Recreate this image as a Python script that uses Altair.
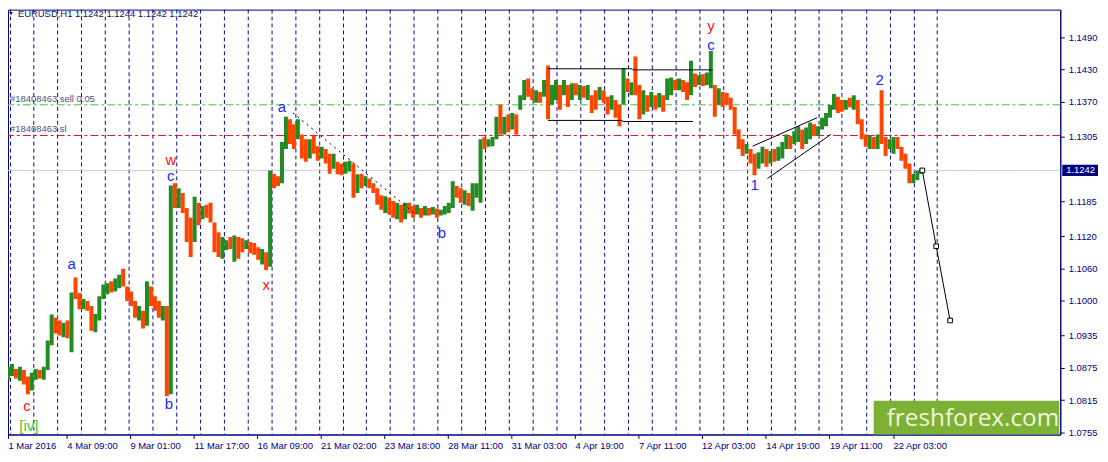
import altair as alt
import pandas as pd

NAVY = "#000080"
GREEN = "#228b22"
RED = "#ff4500"
FONT = "Liberation Sans"

# 4-hour bars (1 hour = 1 chart unit), prices in pips
BAR_START = 4
BAR_STEP = 4
HIGH_PIPS = [
    10871, 10877, 10882, 10873, 10877, 10871, 10859, 10866, 10873, 10871,
    10877, 10926, 10974, 10968, 10963, 10959, 10963, 11015, 11043, 11014,
    11003, 10999, 10990, 10975, 11008, 11030, 11032, 11036, 11041, 11048,
    11059, 11026, 11017, 10999, 10990, 10981, 11036, 11026, 11008, 10999,
    10990, 10990, 11214, 11218, 11209, 11200, 11172, 11154, 11193, 11182,
    11176, 11178, 11182, 11145, 11127, 11118, 11112, 11118, 11121, 11118,
    11116, 11112, 11109, 11107, 11099, 11096, 11090, 11242, 11236, 11231,
    11295, 11342, 11337, 11328, 11337, 11309, 11300, 11300, 11306, 11287,
    11286, 11282, 11273, 11273, 11258, 11255, 11258, 11260, 11255, 11235,
    11236, 11231, 11227, 11218, 11209, 11196, 11194, 11191, 11185, 11182,
    11178, 11182, 11182, 11176, 11178, 11172, 11176, 11172, 11174, 11171,
    11169, 11176, 11182, 11222, 11213, 11209, 11205, 11200, 11218, 11218,
    11300, 11304, 11300, 11304, 11342, 11364, 11342, 11346, 11349, 11346,
    11382, 11410, 11413, 11395, 11391, 11388, 11410, 11437, 11401, 11410,
    11401, 11410, 11401, 11404, 11404, 11401, 11399, 11401, 11382, 11391,
    11397, 11391, 11379, 11382, 11373, 11364, 11432, 11413, 11406, 11454,
    11401, 11391, 11382, 11388, 11382, 11386, 11382, 11413, 11415, 11410,
    11413, 11410, 11406, 11446, 11422, 11419, 11421, 11424, 11464, 11401,
    11395, 11388, 11386, 11377, 11360, 11318, 11300, 11291, 11282, 11273,
    11276, 11286, 11282, 11278, 11282, 11286, 11295, 11309, 11306, 11315,
    11324, 11318, 11322, 11331, 11328, 11324, 11340, 11349, 11364, 11384,
    11379, 11373, 11373, 11377, 11382, 11373, 11337, 11309, 11306, 11304,
    11309, 11391, 11304, 11300, 11304, 11304, 11286, 11273, 11255, 11236,
    11242, 11245,
]
LOW_PIPS = [
    10835, 10853, 10860, 10855, 10851, 10844, 10826, 10833, 10853, 10855,
    10853, 10871, 10917, 10939, 10935, 10932, 10930, 10904, 11003, 10984,
    10984, 10981, 10944, 10941, 10963, 11003, 11012, 11015, 11017, 11023,
    11026, 10999, 10990, 10968, 10963, 10948, 10953, 10990, 10981, 10968,
    10963, 10822, 10826, 11172, 11172, 11163, 11109, 11081, 11109, 11140,
    11151, 11154, 11145, 11090, 11081, 11078, 11094, 11096, 11072, 11078,
    11090, 11096, 11088, 11085, 11076, 11067, 11057, 11063, 11209, 11213,
    11218, 11282, 11291, 11282, 11300, 11264, 11258, 11264, 11273, 11260,
    11264, 11255, 11236, 11245, 11235, 11233, 11236, 11240, 11191, 11200,
    11209, 11213, 11209, 11200, 11178, 11169, 11163, 11160, 11154, 11151,
    11145, 11151, 11162, 11154, 11160, 11154, 11158, 11158, 11160, 11154,
    11158, 11160, 11163, 11172, 11191, 11182, 11178, 11176, 11167, 11191,
    11182, 11282, 11286, 11287, 11300, 11309, 11309, 11313, 11318, 11309,
    11355, 11373, 11379, 11373, 11368, 11368, 11379, 11337, 11364, 11373,
    11355, 11382, 11360, 11373, 11382, 11373, 11377, 11373, 11349, 11355,
    11373, 11368, 11346, 11355, 11340, 11324, 11364, 11388, 11382, 11382,
    11337, 11346, 11351, 11360, 11355, 11359, 11351, 11373, 11382, 11391,
    11391, 11388, 11373, 11382, 11397, 11401, 11399, 11401, 11395, 11342,
    11364, 11360, 11364, 11355, 11309, 11282, 11269, 11273, 11255, 11233,
    11245, 11255, 11249, 11255, 11258, 11260, 11264, 11282, 11282, 11291,
    11295, 11282, 11291, 11300, 11306, 11307, 11318, 11324, 11340, 11355,
    11349, 11351, 11355, 11359, 11355, 11328, 11300, 11286, 11282, 11282,
    11282, 11291, 11269, 11282, 11273, 11282, 11260, 11245, 11218, 11218,
    11224, 11236,
]
DIRS = (
    "duududduud" "uuuddududd" "udduuuuduu" "ddddududdd" "udududddud"
    "udddduudud" "dudddududd" "uudduddudd" "uddudduudu" "dudddduddu"
    "duddududud" "uuuudduduu" "uduuududud" "uuddududuu" "dududududd"
    "udduddudud" "dudududuud" "uddududuud" "uddddddudd" "uududuuudu"
    "uduuduuuuu" "ddududddud" "udduuddddu" "uu"
)

# axes
TICK_T = [8, 67.3, 130.8, 195.4, 258.9, 322.7, 386.9, 451, 514.6, 579.2,
          643.2, 706.6, 771.4, 835.4, 899.5]
TICK_LABELS = ["1 Mar 2016", "4 Mar 09:00", "9 Mar 01:00", "11 Mar 17:00",
               "16 Mar 09:00", "21 Mar 02:00", "23 Mar 18:00", "28 Mar 11:00",
               "31 Mar 03:00", "4 Apr 19:00", "7 Apr 11:00", "12 Apr 03:00",
               "14 Apr 19:00", "19 Apr 11:00", "22 Apr 03:00"]
Y_TICKS = [1.1490, 1.1430, 1.1370, 1.1305, 1.1185, 1.1120, 1.1060, 1.1000,
           1.0935, 1.0875, 1.0815, 1.0755]
DAY_SEPARATORS = [10.5, 34, 58, 82, 106, 130, 154, 178, 202, 226, 250, 274,
                  298, 322, 346, 369, 393, 417, 441, 465, 489, 513, 537, 561,
                  585, 609, 633, 657, 681, 705, 729, 753, 777, 801, 825, 848,
                  873, 897, 921, 944]

# levels
SELL_LEVEL = 1.1364
SL_LEVEL = 1.1307
BID = 1.1242
TITLE = "EURUSD,H1  1.1242 1.1244 1.1242 1.1242"

# drawn objects
TREND_T = [295, 417]
TREND_P = [1.1349, 1.1163]
BOX_SEG = ["top1", "top1", "top2", "top2", "bot1", "bot1", "bot2", "bot2",
           "up", "up", "lo", "lo"]
BOX_T = [552, 637, 637, 718, 552, 627, 627, 698, 758, 823, 773, 837]
BOX_P = [1.1431, 1.1431, 1.1429, 1.1429, 1.1335, 1.1335, 1.1333, 1.1333,
         1.1287, 1.1340, 1.1227, 1.1309]
PROJ_T = [929, 943, 957]
PROJ_P = [1.1242, 1.1101, 1.0963]

WAVE_TEXT = ["[iv]", "c", "a", "b", "w", "c", "x", "a", "b", "y", "c", "1", "2"]
WAVE_T = [29, 27, 72, 170, 172, 172, 268, 284, 445, 716, 716, 760, 886]
WAVE_PIPS = [10767, 10804, 11068, 10807, 11262, 11231, 11028, 11360, 11125,
             11510, 11475, 11214, 11410]
WAVE_COLOR = ["#32cd32", "#ff1010", "#2424ff", "#2424ff", "#ff1010", "#2424ff",
              "#ff1010", "#2424ff", "#2424ff", "#ff1010", "#2424ff", "#2424ff",
              "#2424ff"]

X_SCALE = alt.Scale(domain=[8, 1068], nice=False, zero=False)
Y_SCALE = alt.Scale(domain=[1.0751, 1.1541], nice=False, zero=False)

label_expr = "[{}][indexof([{}], datum.value)]".format(
    ",".join(f"'{s}'" for s in TICK_LABELS), ",".join(str(v) for v in TICK_T))

X_AXIS = alt.Axis(values=TICK_T, labelExpr=label_expr, labelAlign="left",
                  labelFont=FONT, labelFontSize=9.5, labelColor=NAVY,
                  tickColor=NAVY, tickSize=4, domainColor=NAVY, labelPadding=2,
                  labelOverlap=False, labelFlush=False, grid=False, title=None)
Y_AXIS = alt.Axis(orient="right", values=Y_TICKS, format=".4f", labelFont=FONT,
                  labelFontSize=9.5, labelColor=NAVY, tickColor=NAVY,
                  tickSize=4, domainColor=NAVY, labelPadding=4, grid=False,
                  labelOverlap=False, labelFlush=False, title=None)


def X(field="t"):
    return alt.X(f"{field}:Q", scale=X_SCALE, axis=X_AXIS)


def Y(field="p"):
    return alt.Y(f"{field}:Q", scale=Y_SCALE, axis=Y_AXIS)


def hline(price, color, dash):
    return alt.Chart(pd.DataFrame({"p": [price]})).mark_rule(
        color=color, strokeWidth=1, strokeDash=dash).encode(y=Y())


bars = pd.DataFrame({
    "t": [BAR_START + BAR_STEP * k for k in range(len(HIGH_PIPS))],
    "high": [v / 10000 for v in HIGH_PIPS],
    "low": [v / 10000 for v in LOW_PIPS],
    "dir": list(DIRS),
})

grid = alt.Chart(pd.DataFrame({"t": DAY_SEPARATORS})).mark_rule(
    color="#0a0a8c", strokeDash=[4, 3], strokeWidth=1
).encode(x=X())

# trade levels: dash-dot like the terminal draws them
bid_line = hline(BID, "#c8c8c8", [1, 0])
sell_line = hline(SELL_LEVEL, "#3cc23c", [8, 3, 3, 3])
sl_line = hline(SL_LEVEL, "#d0143c", [8, 3, 3, 3])

order_text = alt.Chart(pd.DataFrame({
    "p": [SELL_LEVEL, SL_LEVEL],
    "txt": ["#18408463 sell 0.05", "#18408463 sl"],
})).mark_text(align="left", baseline="alphabetic", dy=-3, font=FONT,
              fontSize=9.5, color="#4a5580").encode(
    x=alt.value(2), y=Y(), text="txt:N")

candles = alt.Chart(bars).mark_rule(strokeWidth=4, clip=True).encode(
    x=X(), y=Y("low"), y2="high:Q",
    color=alt.Color("dir:N", scale=alt.Scale(domain=["u", "d"],
                                             range=[GREEN, RED]), legend=None),
)

trend = alt.Chart(pd.DataFrame({"t": TREND_T, "p": TREND_P})).mark_line(
    color="black", strokeWidth=1, strokeDash=[2, 4]).encode(x=X(), y=Y())

boxes = alt.Chart(pd.DataFrame({"seg": BOX_SEG, "t": BOX_T, "p": BOX_P})).mark_line(
    color="black", strokeWidth=1).encode(x=X(), y=Y(), detail="seg:N")

proj_df = pd.DataFrame({"t": PROJ_T, "p": PROJ_P})
proj = alt.Chart(proj_df).mark_line(color="black", strokeWidth=1).encode(
    x=X(), y=Y())
proj_pts = alt.Chart(proj_df).mark_point(
    shape="square", size=22, filled=True, fill="white", stroke="black",
    strokeWidth=1, opacity=1).encode(x=X(), y=Y())

waves = alt.Chart(pd.DataFrame({
    "t": WAVE_T, "p": [v / 10000 for v in WAVE_PIPS],
    "txt": WAVE_TEXT, "col": WAVE_COLOR,
})).mark_text(font=FONT, fontSize=15, baseline="middle", clip=True).encode(
    x=X(), y=Y(), text="txt:N", color=alt.Color("col:N", scale=None))

title_df = pd.DataFrame({"txt": [TITLE]})
title = alt.Chart(title_df).mark_text(
    align="left", baseline="middle", font=FONT, fontSize=9.5, color="#101060"
).encode(x=alt.value(10), y=alt.value(4), text="txt:N")
title_mark = alt.Chart(title_df).mark_point(
    shape="triangle-down", filled=True, size=14, color="#101060", opacity=1
).encode(x=alt.value(3), y=alt.value(4))

tag_df = pd.DataFrame({"p": [BID], "txt": ["1.1242"]})
tag_box = alt.Chart(tag_df).transform_calculate(
    top="datum.p + 0.00105", bot="datum.p - 0.00105"
).mark_rect(color=NAVY).encode(
    x=alt.value(1062), x2=alt.value(1098), y=Y("top"), y2="bot:Q")
tag_text = alt.Chart(tag_df).mark_text(
    align="left", baseline="middle", font=FONT, fontSize=9.5, color="white"
).encode(x=alt.value(1066), y=Y(), text="txt:N")

logo_df = pd.DataFrame({"txt": ["freshforex.com"]})
logo_box = alt.Chart(logo_df).mark_rect(color="#7db135").encode(
    x=alt.value(872), x2=alt.value(1059), y=alt.value(394), y2=alt.value(428))
logo_text = alt.Chart(logo_df).mark_text(
    align="center", baseline="alphabetic", font="Open Sans", fontSize=24.5,
    color="#f2f6dc").encode(x=alt.value(972), y=alt.value(419), text="txt:N")

chart = alt.layer(
    grid, bid_line, sell_line, sl_line, candles, order_text, trend, boxes,
    proj, proj_pts, waves, title_mark, title, logo_box, logo_text, tag_box,
    tag_text,
).properties(
    width=1060, height=428,
    autosize=alt.AutoSizeParams(type="none"),
    padding={"left": 0, "top": 0, "right": 40, "bottom": 17},
    background="white",
).configure_view(stroke=NAVY, strokeWidth=1)

chart.save("out.html", embed_options={"renderer": "svg", "actions": False})
